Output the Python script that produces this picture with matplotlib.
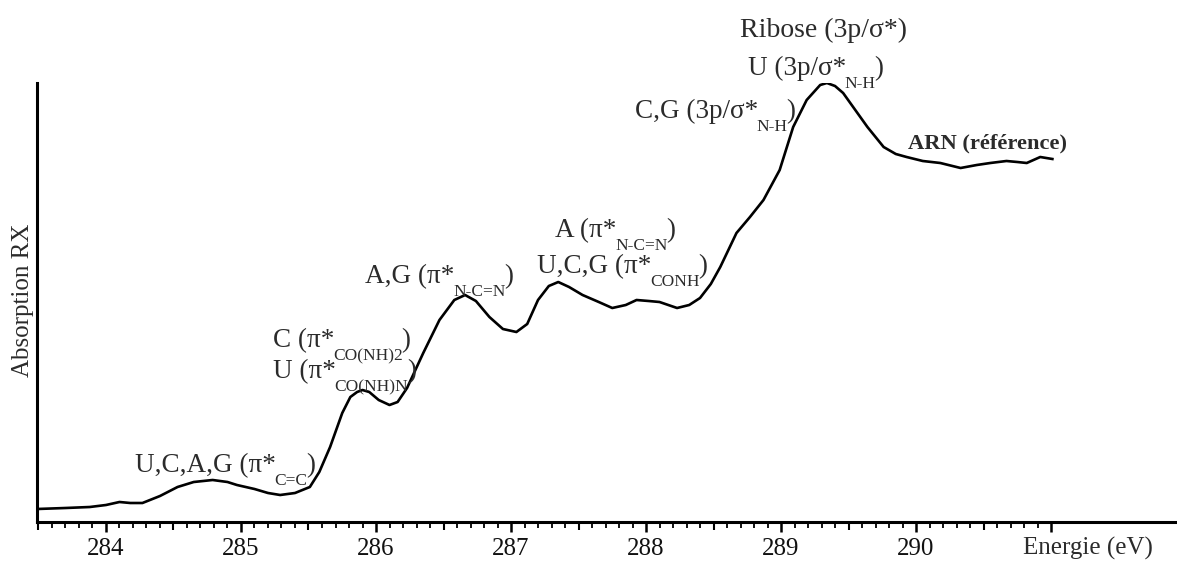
import numpy as np
import matplotlib.pyplot as plt
from matplotlib.ticker import FixedLocator, NullFormatter

plt.rcParams["font.family"] = ["Liberation Serif", "DejaVu Serif"]

# spectrum (eV, arbitrary units)
energy = [283.49, 283.70, 283.88, 284.00, 284.10, 284.18, 284.27, 284.40, 284.53, 284.65,
          284.79, 284.90, 284.97, 285.10, 285.20, 285.29, 285.40, 285.51, 285.58, 285.66,
          285.75, 285.81, 285.86, 285.90, 285.95, 286.02, 286.10, 286.16, 286.23, 286.35,
          286.47, 286.58, 286.66, 286.74, 286.84, 286.94, 287.04, 287.12, 287.20, 287.28,
          287.35, 287.43, 287.53, 287.65, 287.75, 287.85, 287.93, 288.02, 288.10, 288.23,
          288.32, 288.40, 288.48, 288.55, 288.67, 288.77, 288.87, 288.99, 289.09, 289.19,
          289.29, 289.34, 289.40, 289.46, 289.55, 289.64, 289.76, 289.85, 289.93, 290.05,
          290.18, 290.33, 290.45, 290.55, 290.67, 290.75, 290.82, 290.92, 291.01]
absorption = [0.13, 0.14, 0.15, 0.17, 0.20, 0.19, 0.19, 0.26, 0.35, 0.40,
              0.42, 0.40, 0.37, 0.33, 0.29, 0.27, 0.29, 0.35, 0.50, 0.75,
              1.09, 1.25, 1.30, 1.32, 1.30, 1.22, 1.17, 1.20, 1.34, 1.69,
              2.02, 2.22, 2.27, 2.21, 2.05, 1.93, 1.90, 1.98, 2.22, 2.36,
              2.40, 2.35, 2.27, 2.20, 2.14, 2.17, 2.22, 2.21, 2.20, 2.14,
              2.17, 2.24, 2.38, 2.55, 2.89, 3.05, 3.22, 3.52, 3.95, 4.22,
              4.37, 4.39, 4.36, 4.29, 4.12, 3.95, 3.75, 3.68, 3.65, 3.61,
              3.59, 3.54, 3.57, 3.59, 3.61, 3.60, 3.59, 3.65, 3.63]

major_ticks = [284, 285, 286, 287, 288, 289, 290, 291]
major_labels = ["284", "285", "286", "287", "288", "289", "290", ""]
half_ticks = [283.5, 284.5, 285.5, 286.5, 287.5, 288.5, 289.5, 290.5]
minor_ticks = [round(283.5 + 0.1 * i, 1) for i in range(76)]

# (left x, baseline y, main text, subscript, closing)
labels = [
    (284.215, 0.50, "U,C,A,G (π*", "C=C", ")"),
    (285.237, 1.75, "C (π*", "CO(NH)2", ")"),
    (285.237, 1.44, "U (π*", "CO(NH)N", ")"),
    (285.919, 2.39, "A,G (π*", "N-C=N", ")"),
    (287.326, 2.85, "A (π*", "N-C=N", ")"),
    (287.193, 2.49, "U,C,G (π*", "CONH", ")"),
    (287.919, 4.04, "C,G (3p/σ*", "N-H", ")"),
    (288.756, 4.47, "U (3p/σ*", "N-H", ")"),
]

TEXT_COLOR = "#2b2b2b"

fig = plt.figure(figsize=(11.77, 5.63), dpi=100)
ax = fig.add_axes([37 / 1177, 41 / 563, 1140 / 1177, 439 / 563])

ax.plot(energy, absorption, color="black", lw=1.9, solid_joinstyle="round")

ax.set_xlim(283.489, 291.933)
ax.set_ylim(0, 4.39)

for side in ["top", "right"]:
    ax.spines[side].set_visible(False)
ax.spines["left"].set_linewidth(2.2)
ax.spines["bottom"].set_linewidth(2.2)
ax.set_yticks([])

ax.xaxis.set_major_locator(FixedLocator(major_ticks))
ax.set_xticklabels(major_labels)
ax.xaxis.set_minor_locator(FixedLocator(minor_ticks))
ax.xaxis.set_minor_formatter(NullFormatter())
ax.tick_params(axis="x", which="major", length=7.5, width=1.8, pad=4,
               labelsize=18, labelcolor="#111111")
ax.tick_params(axis="x", which="minor", length=4, width=1.3)

sec = ax.secondary_xaxis("bottom")
sec.set_xticks(half_ticks)
sec.set_xticklabels([])
sec.tick_params(length=6, width=1.5)
sec.spines["bottom"].set_visible(False)

for x, y, main, sub, close in labels:
    t = ax.text(x, y, main, fontsize=19.5, color=TEXT_COLOR, ha="left", va="baseline")
    s = ax.annotate(sub, xy=(1, y), xycoords=(t, "data"), xytext=(-1, -9.5),
                    textcoords="offset points", fontsize=12.5, color=TEXT_COLOR,
                    ha="left", va="baseline")
    ax.annotate(close, xy=(1, y), xycoords=(s, "data"), xytext=(-1, 0),
                textcoords="offset points", fontsize=19.5, color=TEXT_COLOR,
                ha="left", va="baseline")

ax.text(288.696, 4.85, "Ribose (3p/σ*)", fontsize=20, color=TEXT_COLOR,
        ha="left", va="baseline", clip_on=False)
ax.text(289.941, 3.74, "ARN (référence)", fontsize=16.2, fontweight="bold",
        color=TEXT_COLOR, ha="left", va="baseline")

fig.text(23 / 1177, 1 - 300 / 563, "Absorption RX", rotation=90, fontsize=18,
         color=TEXT_COLOR, ha="center", va="center")
fig.text(1088 / 1177, 1 - 548 / 563, "Energie (eV)", fontsize=18,
         color=TEXT_COLOR, ha="center", va="center")

fig.savefig("out.png", dpi=100)
